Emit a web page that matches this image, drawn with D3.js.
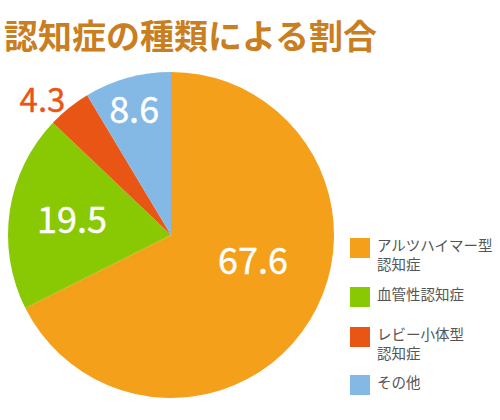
<!DOCTYPE html>
<html>
  <head>
    <meta charset="utf-8" />
    <script src="https://d3js.org/d3.v7.min.js"></script>
    <style>
      body { margin: 0; background: #fff; }
      text { font-family: "Noto Sans CJK JP", "Noto Sans", sans-serif; }
    </style>
  </head>
  <body>
    <svg id="chart" width="500" height="420"></svg>
    <script>
      // data
      const categories = ["アルツハイマー型認知症", "血管性認知症", "レビー小体型認知症", "その他"];
      const legendLines = [["アルツハイマー型", "認知症"], ["血管性認知症"], ["レビー小体型", "認知症"], ["その他"]];
      const values = [67.6, 19.5, 4.3, 8.6];
      const colors = ["#f4a01a", "#89c904", "#e95514", "#84b9e5"];

      // label placement tweaks (radius px, angle shift deg)
      const labelRadius = [86, 100, 186, 130];
      const labelShift = [-14, 0, -5, -1];

      const svg = d3.select("#chart");

      svg.append("text")
        .attr("x", 4)
        .attr("y", 49)
        .attr("font-size", 34)
        .attr("font-weight", "bold")
        .attr("fill", "#c97e1f")
        .text("認知症の種類による割合");

      const radius = 163;
      const g = svg.append("g").attr("transform", "translate(171,235)");

      const pie = d3.pie().sort(null).value(d => d);
      const arcs = pie(values);
      const arc = d3.arc().innerRadius(0).outerRadius(radius);

      g.selectAll("path")
        .data(arcs)
        .enter()
        .append("path")
        .attr("d", arc)
        .attr("fill", (d, i) => colors[i]);

      // value labels (regular weight, thickened slightly with a stroke)
      g.selectAll("text.val")
        .data(arcs)
        .enter()
        .append("text")
        .attr("class", "val")
        .attr("text-anchor", "middle")
        .attr("dy", "0.36em")
        .attr("font-size", (d, i) => labelRadius[i] > radius ? 33 : 36)
        .attr("fill", (d, i) => labelRadius[i] > radius ? colors[i] : "#fff")
        .attr("stroke", (d, i) => labelRadius[i] > radius ? colors[i] : "#fff")
        .attr("stroke-width", 0.4)
        .attr("transform", (d, i) => {
          const a = (d.startAngle + d.endAngle) / 2 + labelShift[i] * Math.PI / 180;
          const r = labelRadius[i];
          return "translate(" + (r * Math.sin(a)) + "," + (-r * Math.cos(a)) + ")";
        })
        .text(d => d.data.toFixed(1));

      // legend
      const legendTop = [238, 287, 327, 375];

      const legend = svg.append("g").attr("transform", "translate(350,0)");
      const item = legend.selectAll("g")
        .data(categories)
        .enter()
        .append("g")
        .attr("transform", (d, i) => "translate(0," + legendTop[i] + ")");

      item.append("rect")
        .attr("width", 20)
        .attr("height", 20)
        .attr("fill", (d, i) => colors[i]);

      item.each(function (d, i) {
        const t = d3.select(this).append("text")
          .attr("x", 27)
          .attr("font-size", 14.5)
          .attr("fill", "#555");
        legendLines[i].forEach((line, j) => {
          t.append("tspan")
            .attr("x", 27)
            .attr("y", 8 + j * 19)
            .attr("dy", "0.36em")
            .text(line);
        });
      });
    </script>
  </body>
</html>
